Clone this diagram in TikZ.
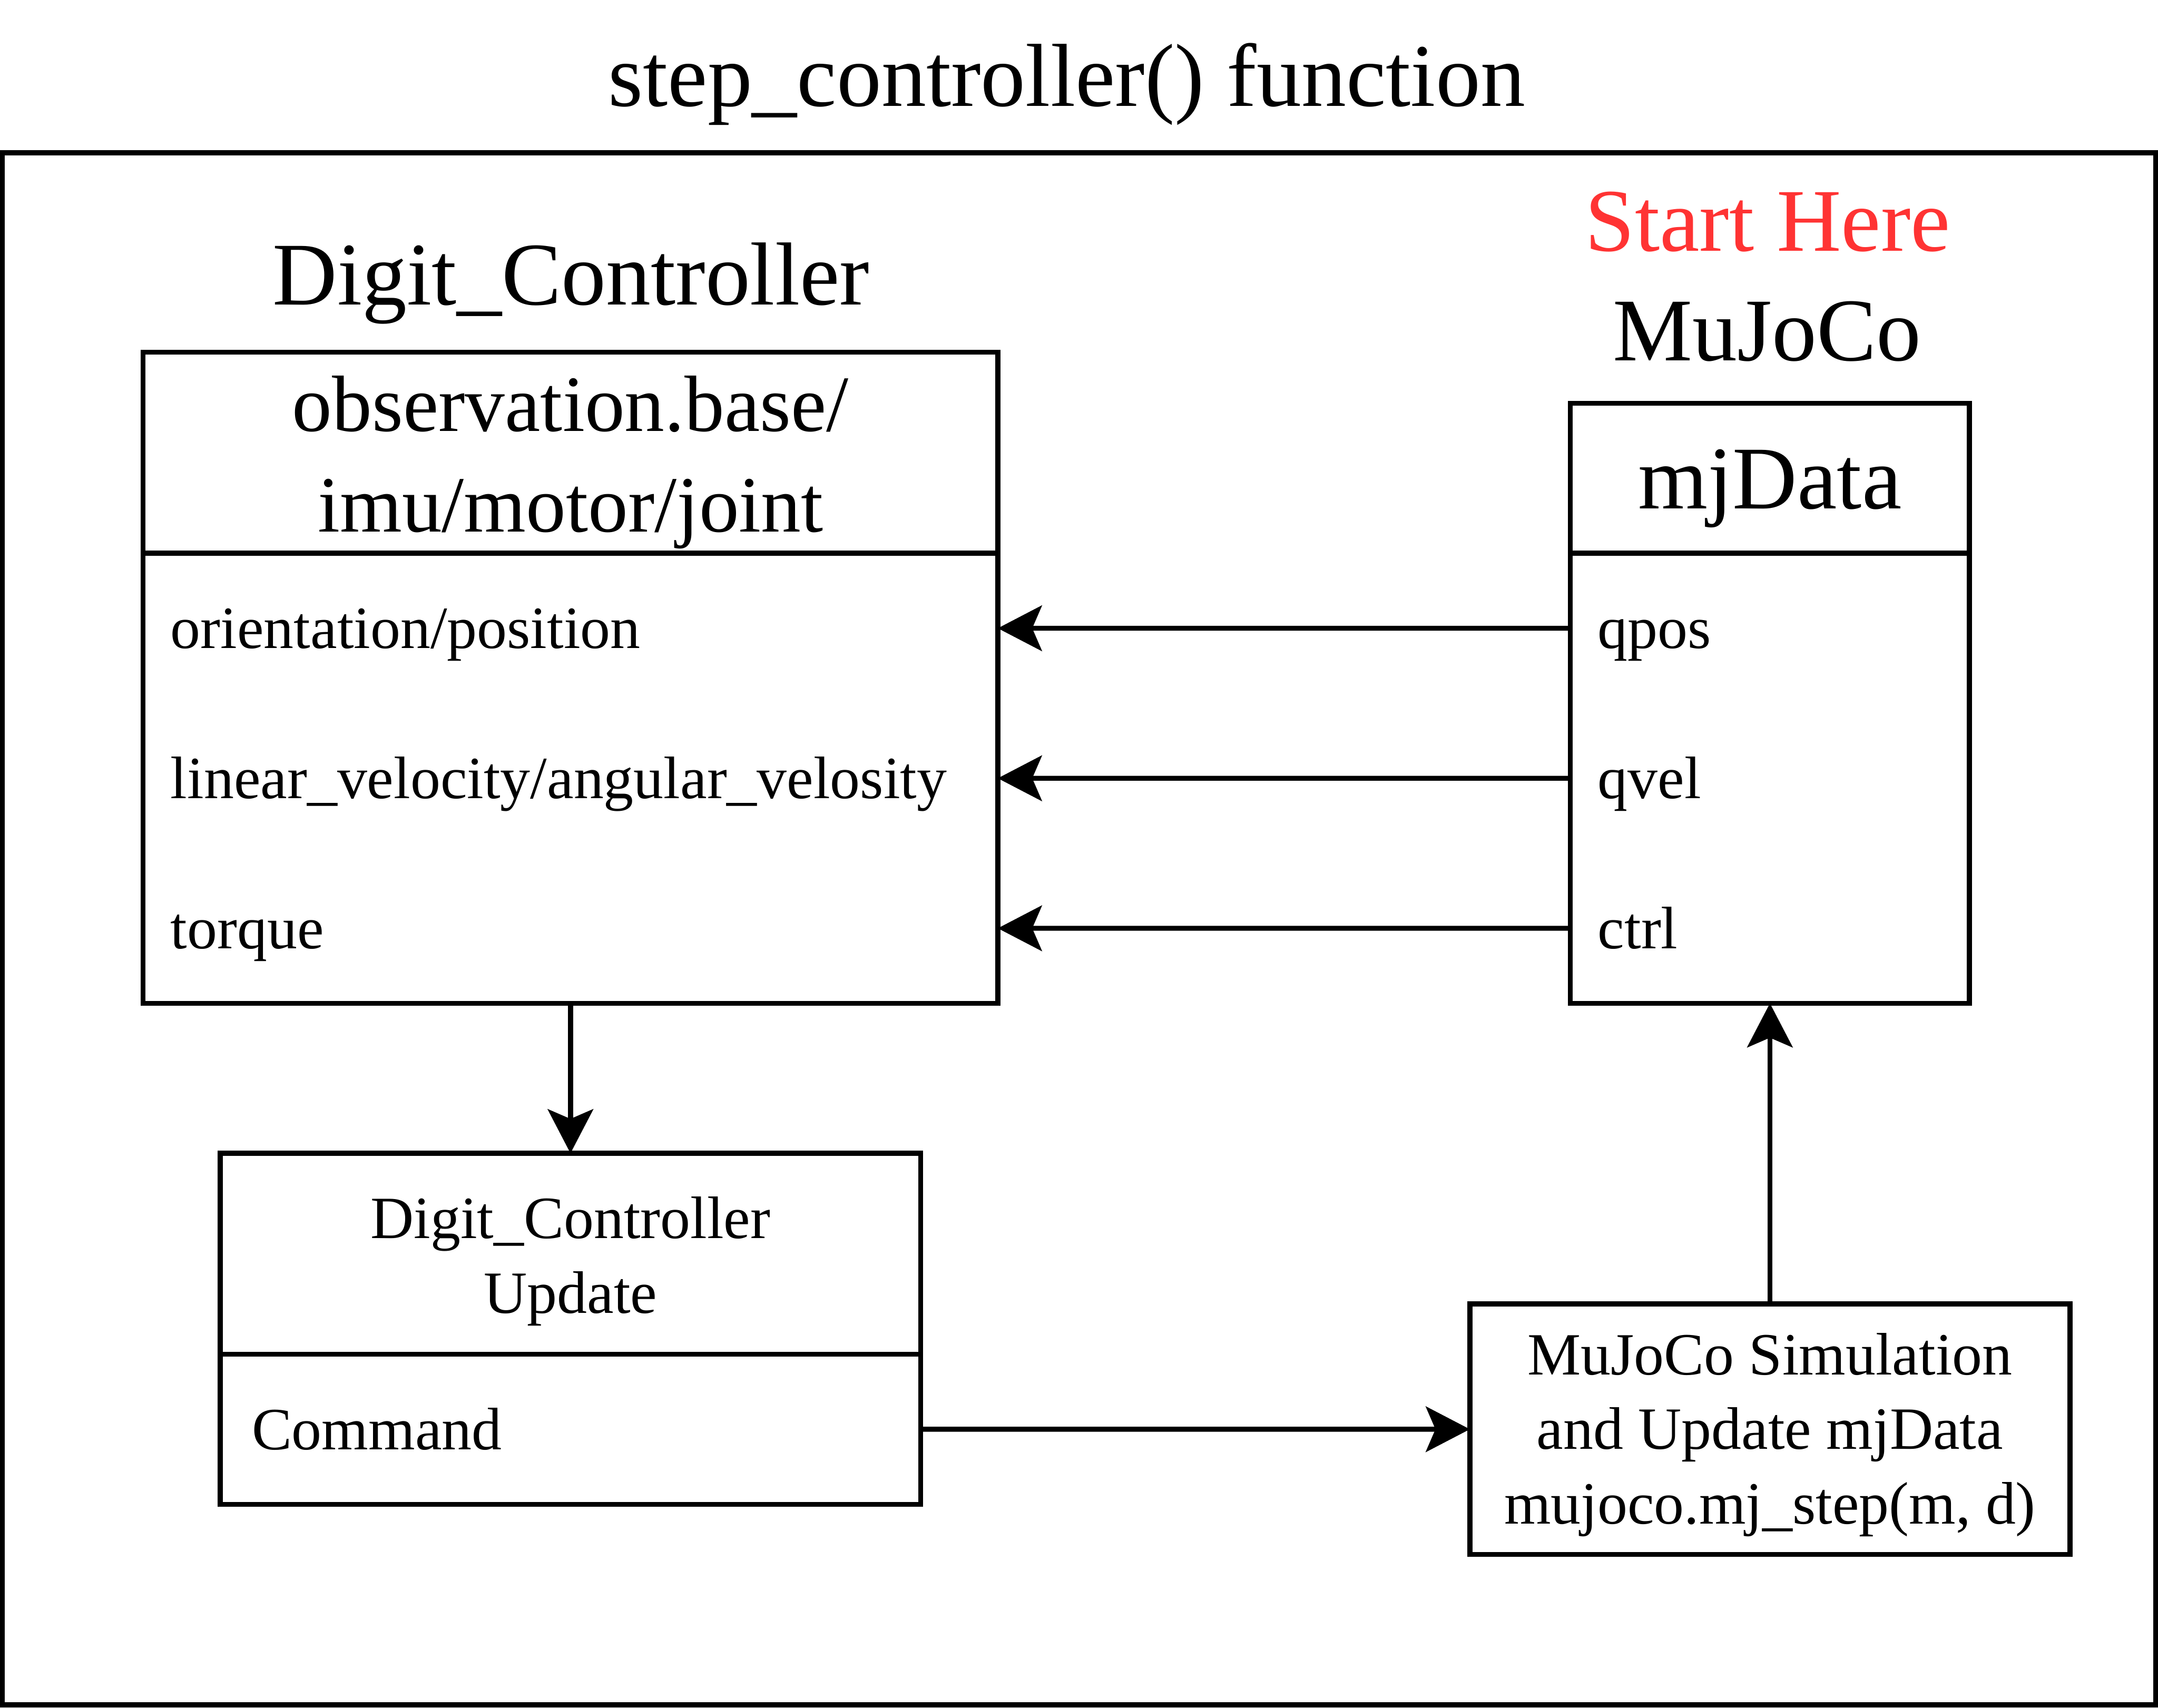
\documentclass[tikz,border=0pt]{standalone}
\usepackage{fontspec}
\setmainfont{Liberation Serif}
\usepackage{tikz}
\usetikzlibrary{arrows.meta,positioning}
\definecolor{vermelho}{HTML}{FF3333}
\newcommand{\esteio}{\rule[-0.2625em]{0pt}{1.2em}}

\begin{document}
\begin{tikzpicture}[
    caixa/.style={draw, line width=1.03pt, rectangle, inner sep=0pt, outer sep=0pt, align=center,
      execute at begin node=\esteio},
    texto/.style={inner sep=0pt, align=center},
    campo/.style={rectangle, inner xsep=0.2cm, inner ysep=0pt, outer sep=0pt, align=left, minimum height=1.09cm,
      font=\fontsize{12.4}{15}\selectfont, execute at begin node=\esteio},
    seta/.style={line width=1.03pt, -{Stealth[length=0.32cm, width=0.33cm, inset=0.07cm]}},
    grande/.style={inner sep=0pt, font=\fontsize{18.5}{22}\selectfont},
    media/.style={font=\fontsize{16.5}{20.8}\selectfont},
    pequena/.style={font=\fontsize{12.4}{15.4}\selectfont},
  ]
  \useasboundingbox (0,0) rectangle (15.68,-12.41);

  % Moldura da funcao
  \node[caixa, minimum width=15.644cm, minimum height=11.277cm, anchor=north west] (moldura) at (0.018,-1.11) {};
  \node[grande, anchor=base] (titulo) at (7.75,-0.771) {step\_controller() function};

  % Digit_Controller
  \node[grande, anchor=base] (lblDigit) at (4.15,-2.215) {Digit\_Controller};
  \node[caixa, minimum width=6.21cm, minimum height=1.46cm] (obsHead) at (4.145,-3.29) {};
  \node[texto, media, yshift=-0.07cm] (obsTitle) at (obsHead) {observation.base/\\imu/motor/joint};
  \node[caixa, minimum width=6.21cm, minimum height=3.27cm, below=0pt of obsHead] (obsBody) {};
  \node[campo, text width=5.81cm, anchor=north west] (orient) at (obsBody.north west) {orientation/position};
  \node[campo, text width=5.81cm, below=0pt of orient] (vel) {linear\_velocity/angular\_velosity};
  \node[campo, text width=5.81cm, below=0pt of vel] (torque) {torque};

  % MuJoCo
  \node[grande, anchor=base, text=vermelho] (inicio) at (12.845,-1.823) {Start Here};
  \node[grande, anchor=base] (lblMujoco) at (12.84,-2.619) {MuJoCo};
  \node[caixa, grande, minimum width=2.90cm, minimum height=1.09cm] (mjHead) at (12.86,-3.475) {mjData};
  \node[caixa, minimum width=2.90cm, minimum height=3.27cm, below=0pt of mjHead] (mjBody) {};
  \node[campo, text width=2.50cm, anchor=north west] (qpos) at (mjBody.north west) {qpos};
  \node[campo, text width=2.50cm, below=0pt of qpos] (qvel) {qvel};
  \node[campo, text width=2.50cm, below=0pt of qvel] (ctrl) {ctrl};

  % Atualizacao do controlador
  \node[caixa, minimum width=5.09cm, minimum height=1.46cm] (updHead) at (4.145,-9.11) {};
  \node[texto, pequena, yshift=-0.055cm] (updTitle) at (updHead) {Digit\_Controller\\Update};
  \node[caixa, minimum width=5.09cm, minimum height=1.09cm, below=0pt of updHead] (updBody) {};
  \node[campo, inner xsep=0.23cm, text width=4.63cm, anchor=west] (cmd) at (updBody.west) {Command};

  % Simulacao
  \node[caixa, minimum width=4.36cm, minimum height=1.82cm] (simBox) at (12.86,-10.385) {};
  \node[texto, pequena, yshift=-0.04cm] (simText) at (simBox) {MuJoCo Simulation\\and Update mjData\\mujoco.mj\_step(m, d)};

  % Setas
  \draw[seta] (qpos.west) -- (orient.east);
  \draw[seta] (qvel.west) -- (vel.east);
  \draw[seta] (ctrl.west) -- (torque.east);
  \draw[seta] (obsBody.south) -- (updHead.north);
  \draw[seta] (cmd.east) -- (simBox.west);
  \draw[seta] (simBox.north) -- (mjBody.south);
\end{tikzpicture}
\end{document}
